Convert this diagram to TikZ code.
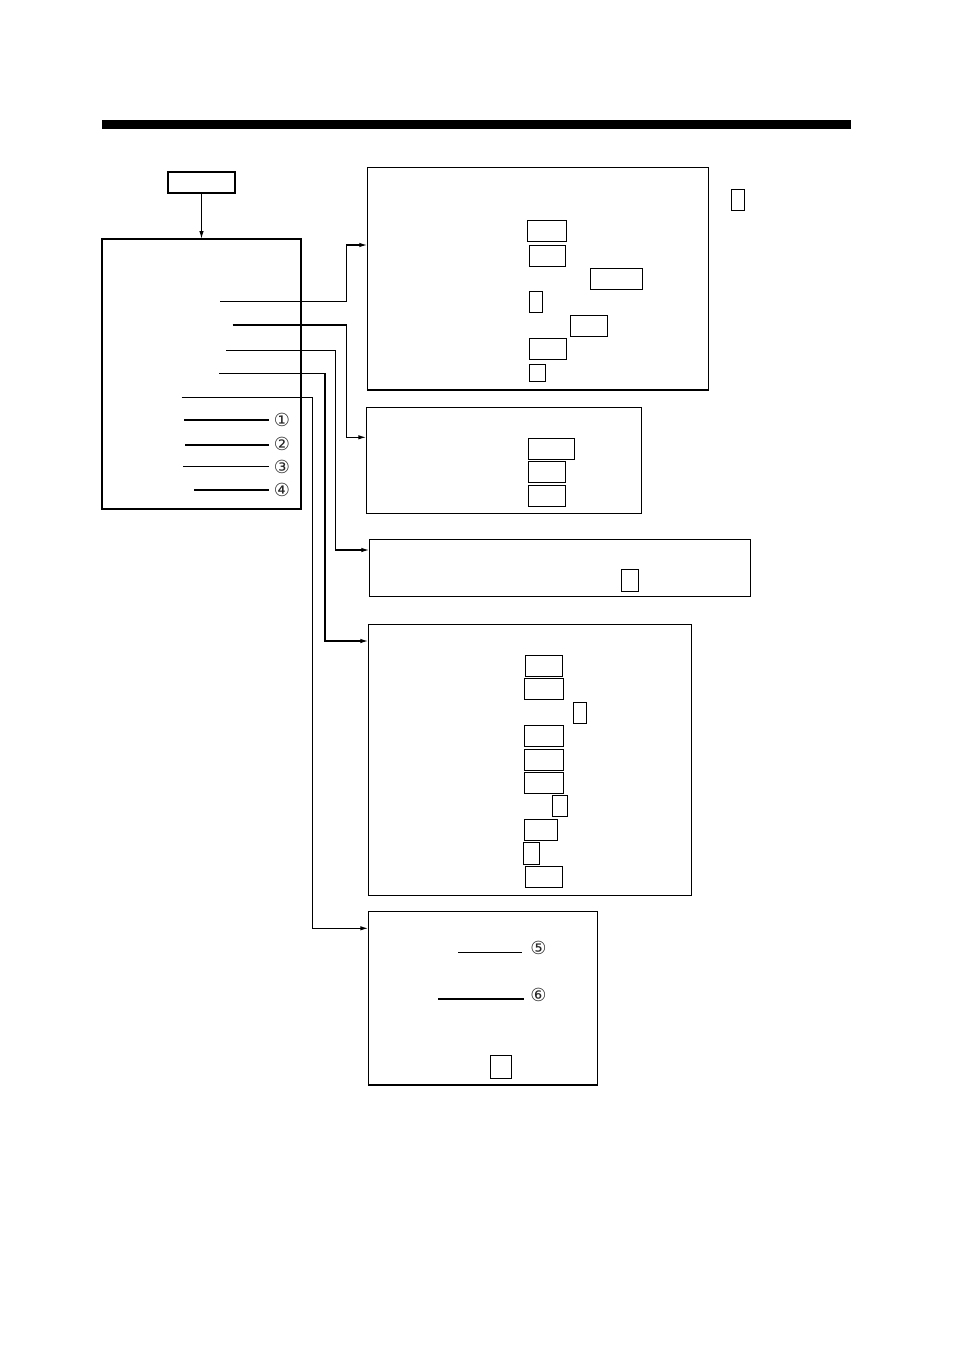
\documentclass[tikz,border=0pt]{standalone}
\usepackage{fontspec}
\newfontfamily\circfont{DejaVu Sans}
\usetikzlibrary{arrows.meta}
\tikzset{
  bx/.style={draw, line width=1.3pt, inner sep=0pt, outer sep=0pt},
  ln/.style={line width=1.3pt},
  arr/.style={line width=1.3pt, -{Latex[length=8pt,width=4.5pt]}},
  circ/.style={inner sep=0pt, font=\circfont\fontsize{18}{18}\selectfont, text=black!85},
}
\newcommand\rbox[5]{\node[bx, minimum width={(#4-#2)*1pt}, minimum height={(#5-#3)*1pt}] (#1) at ({(#2+#4)/2},{-(#3+#5)/2}) {};}
\begin{document}
\begin{tikzpicture}[x=1pt,y=1pt]
\useasboundingbox (0,0) rectangle (954,-1351);
% header bar
\fill (102,-120) rectangle (851,-129.5);
% top box and main box
\rbox{top}{168}{172}{235}{193}
\rbox{main}{102}{239}{301}{509}
\draw[arr] (top.south) -- (main.north);
% target boxes
\rbox{b1}{367.3}{167.3}{708.7}{390}
\rbox{b2}{366.3}{407.3}{641.7}{513.3}
\rbox{b3}{369.3}{539.3}{750.7}{596.3}
\rbox{b4}{368.3}{624.3}{691.7}{895.3}
\rbox{b5}{368.3}{911.7}{597.3}{1085}
% small boxes in b1
\rbox{a1}{527.3}{220.3}{566.3}{241.3}
\rbox{a2}{529.3}{245.3}{565.7}{266.7}
\rbox{a3}{590.3}{268.3}{642.7}{289.3}
\rbox{a4}{529.3}{291.3}{542.7}{312.3}
\rbox{a5}{570.3}{315.3}{607.7}{336.3}
\rbox{a6}{529.3}{338.3}{566.3}{359.3}
\rbox{a7}{529.3}{364.3}{545.7}{381.3}
\rbox{a8}{731.3}{189.3}{744.3}{210.3}
% small boxes in b2
\rbox{c1}{528.3}{438.3}{574.7}{459.3}
\rbox{c2}{528.3}{461.3}{565.7}{482.3}
\rbox{c3}{528.3}{485.3}{565.7}{506.7}
% small box in b3
\rbox{d1}{621.3}{569.3}{638.7}{591.3}
% small boxes in b4
\rbox{e1}{525.3}{655.3}{562.3}{676.3}
\rbox{e2}{524.3}{678.3}{563.3}{699.3}
\rbox{e3}{573.3}{702.3}{586.3}{723.3}
\rbox{e4}{524.3}{725.3}{563.3}{746.3}
\rbox{e5}{524.3}{749.3}{563.3}{770.3}
\rbox{e6}{524.3}{772.3}{563.3}{793.3}
\rbox{e7}{552.3}{795.3}{567.3}{816.3}
\rbox{e8}{524.3}{819.3}{557.7}{840.3}
\rbox{e9}{523.3}{842.3}{539.3}{864.3}
\rbox{e10}{525.3}{866.3}{562.3}{887.3}
% small box in b5
\rbox{f1}{490.3}{1055.3}{511.3}{1078.3}
% connectors from main box
\coordinate (s1) at (220,-301.5);
\coordinate (j1) at (346.5,-245);
\draw[arr] (s1) -| (j1) -- (j1 -| b1.west);
\coordinate (s2) at (232.5,-325);
\coordinate (j2) at (346.5,-437.3);
\draw[arr] (s2) -| (j2) -- (j2 -| b2.west);
\coordinate (s3) at (226,-350.5);
\coordinate (j3) at (335.5,-550);
\draw[arr] (s3) -| (j3) -- (j3 -| b3.west);
\coordinate (s4) at (219,-373.3);
\coordinate (j4) at (325,-641);
\draw[arr] (s4) -| (j4) -- (j4 -| b4.west);
\coordinate (s5) at (181.7,-397.3);
\coordinate (j5) at (312.3,-928.3);
\draw[arr] (s5) -| (j5) -- (j5 -| b5.west);
% numbered leader lines
\node[circ] (n1) at (282,-420) {①};
\node[circ] (n2) at (282,-443.5) {②};
\node[circ] (n3) at (282,-466.7) {③};
\node[circ] (n4) at (282,-490) {④};
\coordinate (t1) at (184,-420);
\coordinate (t2) at (185,-445);
\coordinate (t3) at (183,-466.7);
\coordinate (t4) at (194,-490);
\draw[ln] (t1) -- ([xshift=-13pt]n1.center |- t1);
\draw[ln] (t2) -- ([xshift=-13pt]n2.center |- t2);
\draw[ln] (t3) -- ([xshift=-13pt]n3.center |- t3);
\draw[ln] (t4) -- ([xshift=-13pt]n4.center |- t4);
\node[circ] (n5) at (538.5,-948.3) {⑤};
\node[circ] (n6) at (538.5,-995) {⑥};
\coordinate (t5) at (458,-952.3);
\coordinate (t6) at (438,-999);
\draw[ln] (t5) -- ([xshift=-16.8pt]n5.center |- t5);
\draw[ln] (t6) -- ([xshift=-14.8pt]n6.center |- t6);
\end{tikzpicture}
\end{document}
